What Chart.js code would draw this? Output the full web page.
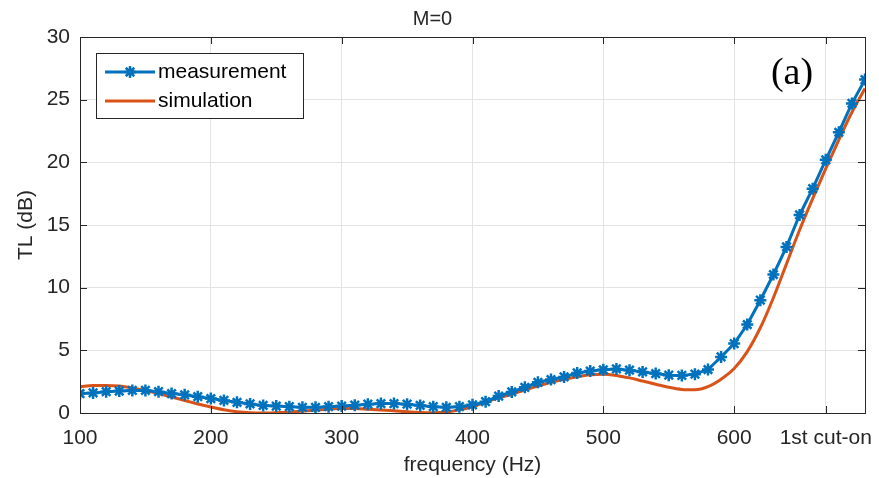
<!DOCTYPE html>
<html>
<head>
<meta charset="utf-8">
<script src="https://cdn.jsdelivr.net/npm/chart.js@4"></script>
<style>
  html, body { margin: 0; padding: 0; background: #fff; }
  #wrap { width: 879px; height: 478px; }
</style>
</head>
<body>
<div id="wrap"><canvas id="chart-tl"></canvas></div>
<script>
// Data
const freq = [100,110,120,130,140,150,160,170,180,190,200,210,220,230,240,250,260,270,280,290,300,310,320,330,340,350,360,370,380,390,400,410,420,430,440,450,460,470,480,490,500,510,520,530,540,550,560,570,580,590,600,610,620,630,640,650,660,670,680,690,700];
const measurement = [1.55,1.6,1.7,1.75,1.8,1.8,1.7,1.55,1.45,1.3,1.15,1.0,0.85,0.72,0.6,0.55,0.5,0.45,0.45,0.5,0.55,0.62,0.7,0.75,0.75,0.7,0.6,0.5,0.45,0.5,0.65,0.9,1.35,1.68,2.05,2.45,2.67,2.88,3.2,3.35,3.45,3.52,3.42,3.28,3.15,3.02,3.0,3.1,3.47,4.47,5.54,7.06,9.0,11.05,13.25,15.8,17.9,20.2,22.4,24.7,26.6];
const simulation = [2.1,2.2,2.2,2.15,2.0,1.8,1.55,1.28,1.0,0.72,0.48,0.26,0.1,0.02,0.0,0.02,0.08,0.15,0.22,0.3,0.35,0.35,0.3,0.24,0.18,0.1,0.04,0.02,0.08,0.25,0.5,0.88,1.2,1.5,1.85,2.15,2.45,2.7,2.9,3.05,3.1,3.0,2.8,2.55,2.3,2.05,1.88,1.85,2.1,2.7,3.55,4.9,6.8,9.2,11.9,14.6,17.1,19.5,21.8,24.0,25.9];
const xTicks = [100,200,300,400,500,600,670];
const xTickLabels = ['100','200','300','400','500','600','1st cut-on'];
const yTicks = [0,5,10,15,20,25,30];
const seriesNames = ['measurement','simulation'];

const BLUE = '#0072BD';
const ORANGE = '#D95319';
const FONT = 'Liberation Sans, Arial, sans-serif';

const toPoints = ys => freq.map((f, i) => ({x: f, y: ys[i]}));

// box, inward ticks, legend and panel tag, MATLAB style
const decor = {
  id: 'decor',
  afterDraw(chart) {
    const {ctx, chartArea: a, scales} = chart;
    ctx.save();
    ctx.strokeStyle = '#262626';
    ctx.lineWidth = 1;
    ctx.beginPath();
    xTicks.forEach(v => {
      const px = Math.round(scales.x.getPixelForValue(v)) + 0.5;
      ctx.moveTo(px, a.bottom); ctx.lineTo(px, a.bottom - 7);
      ctx.moveTo(px, a.top); ctx.lineTo(px, a.top + 7);
    });
    yTicks.forEach(v => {
      const py = Math.round(scales.y.getPixelForValue(v)) + 0.5;
      ctx.moveTo(a.left, py); ctx.lineTo(a.left + 7, py);
      ctx.moveTo(a.right, py); ctx.lineTo(a.right - 7, py);
    });
    ctx.stroke();
    ctx.strokeRect(Math.round(a.left) + 0.5, Math.round(a.top) + 0.5,
                   Math.round(a.right - a.left), Math.round(a.bottom - a.top));

    // legend
    const lx = 96, ly = 53, lw = 207, lh = 65;
    ctx.fillStyle = '#fff';
    ctx.fillRect(lx, ly, lw, lh);
    ctx.strokeStyle = '#262626';
    ctx.strokeRect(lx + 0.5, ly + 0.5, lw, lh);
    const rows = [72, 101];
    ctx.lineWidth = 3;
    [BLUE, ORANGE].forEach((c, i) => {
      ctx.strokeStyle = c;
      ctx.beginPath();
      ctx.moveTo(105, rows[i]); ctx.lineTo(155, rows[i]);
      ctx.stroke();
    });
    ctx.strokeStyle = BLUE;
    ctx.lineWidth = 2.5;
    ctx.beginPath();
    for (let k = 0; k < 4; k++) {
      const ang = k * Math.PI / 4;
      ctx.moveTo(130 - 6 * Math.cos(ang), 72 - 6 * Math.sin(ang));
      ctx.lineTo(130 + 6 * Math.cos(ang), 72 + 6 * Math.sin(ang));
    }
    ctx.stroke();
    ctx.fillStyle = '#000';
    ctx.font = '21px ' + FONT;
    ctx.textBaseline = 'middle';
    seriesNames.forEach((s, i) => ctx.fillText(s, 158, rows[i]));

    // panel tag
    ctx.font = '38px "Liberation Serif", "Times New Roman", serif';
    ctx.textAlign = 'center';
    ctx.fillText('(a)', 792, 74);
    ctx.restore();
  }
};

!function(){
  const ctx = document.getElementById('chart-tl');

  new Chart(ctx, {
    type: 'line',
    data: {
      datasets: [{
        label: seriesNames[0],
        data: toPoints(measurement),
        borderColor: BLUE,
        backgroundColor: BLUE,
        borderWidth: 3,
        pointStyle: 'star',
        pointRadius: 6,
        pointBorderWidth: 2.5,
        pointBorderColor: BLUE,
        tension: 0
      }, {
        label: seriesNames[1],
        data: toPoints(simulation),
        borderColor: ORANGE,
        borderWidth: 3,
        pointRadius: 0,
        cubicInterpolationMode: 'monotone'
      }]
    },
    options: {
      responsive: true,
      maintainAspectRatio: false,
      animation: false,
      layout: { padding: { left: 0, right: 14, top: 0, bottom: 0 } },
      plugins: {
        legend: { display: false },
        tooltip: { enabled: false },
        title: {
          display: true,
          text: 'M=0',
          color: '#262626',
          font: { family: FONT, size: 20, weight: 'normal' },
          padding: { top: 7, bottom: 6 }
        }
      },
      scales: {
        x: {
          type: 'linear',
          min: 100,
          max: 700,
          afterBuildTicks: s => { s.ticks = xTicks.map(v => ({value: v})); },
          afterFit: s => { s.height = 65; s.paddingRight = 0; s.paddingLeft = 0; },
          border: { display: false },
          grid: { color: '#e3e3e3', drawTicks: false },
          ticks: {
            color: '#262626',
            padding: 13,
            maxRotation: 0,
            autoSkip: false,
            font: { family: FONT, size: 21 },
            callback: v => xTickLabels[xTicks.indexOf(v)]
          },
          title: {
            display: true,
            text: 'frequency (Hz)',
            color: '#262626',
            padding: 0,
            font: { family: FONT, size: 21 }
          }
        },
        y: {
          min: 0,
          max: 30,
          afterBuildTicks: s => { s.ticks = yTicks.map(v => ({value: v})); },
          afterFit: s => { s.width = 80; },
          border: { display: false },
          grid: { color: '#e3e3e3', drawTicks: false },
          ticks: {
            color: '#262626',
            padding: 10,
            font: { family: FONT, size: 21 }
          },
          title: {
            display: true,
            text: 'TL (dB)',
            color: '#262626',
            padding: { top: 14, bottom: 0 },
            font: { family: FONT, size: 21 }
          }
        }
      }
    },
    plugins: [decor]
  });
}();
</script>
</body>
</html>
